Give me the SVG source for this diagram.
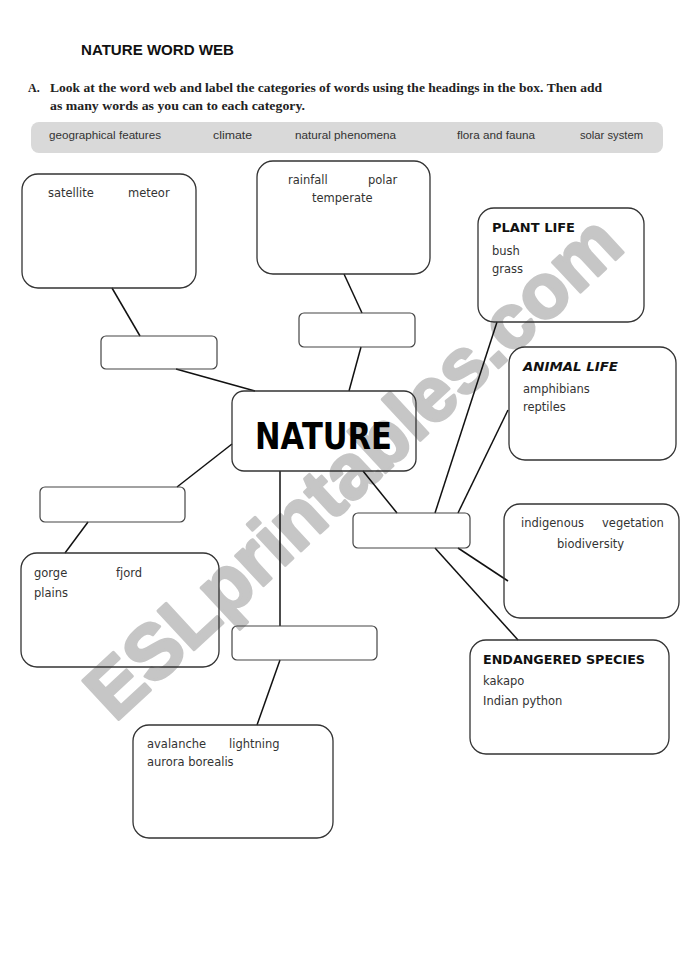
<svg xmlns="http://www.w3.org/2000/svg" width="685" height="970" viewBox="0 0 685 970">
<style>
.bg{fill:#fff}
.box{fill:none;stroke:#333;stroke-width:1.3}
.lbl{fill:none;stroke:#444;stroke-width:1.2}
.con line{stroke:#111;stroke-width:1.5}
.w{font-family:"DejaVu Sans",sans-serif;font-size:11.5px;fill:#333}
.h{font-family:"DejaVu Sans",sans-serif;font-size:12px;font-weight:bold;fill:#111}
.g{font-family:"Liberation Sans",Arial,sans-serif;font-size:11px;fill:#333}
.ins{font-family:"Liberation Serif","Times New Roman",serif;font-size:12px;font-weight:bold;fill:#222}
</style>
<rect class="bg" x="0" y="0" width="685" height="970"/>
<text x="115" y="723" transform="rotate(-42.8 115 723)" font-family="Liberation Sans,Arial,sans-serif" font-size="77" font-weight="bold" fill="#c6c6c6" stroke="#c6c6c6" stroke-width="3" stroke-linejoin="round">ESLprintables.com</text>
<g id="header">
<text x="81" y="55" font-family="Liberation Sans,Arial,sans-serif" font-size="14.5" font-weight="bold" fill="#111" textLength="153" lengthAdjust="spacingAndGlyphs">NATURE WORD WEB</text>
<text class="ins" x="28" y="92">A.</text>
<text class="ins" x="50" y="92" textLength="552" lengthAdjust="spacingAndGlyphs">Look at the word web and label the categories of words using the headings in the box. Then add</text>
<text class="ins" x="50" y="110" textLength="255" lengthAdjust="spacingAndGlyphs">as many words as you can to each category.</text>
</g>
<g id="wordbox">
<rect x="31" y="122" width="632" height="31" rx="8" fill="#d9d9d9"/>
<text class="g" x="49" y="139" textLength="112" lengthAdjust="spacingAndGlyphs">geographical features</text>
<text class="g" x="213" y="139" textLength="39" lengthAdjust="spacingAndGlyphs">climate</text>
<text class="g" x="295" y="139" textLength="101" lengthAdjust="spacingAndGlyphs">natural phenomena</text>
<text class="g" x="457" y="139" textLength="78" lengthAdjust="spacingAndGlyphs">flora and fauna</text>
<text class="g" x="580" y="139" textLength="63" lengthAdjust="spacingAndGlyphs">solar system</text>
</g>
<g class="con" id="connectors">
<line x1="112" y1="288" x2="140" y2="336"/>
<line x1="176" y1="369" x2="255" y2="391"/>
<line x1="344" y1="274" x2="362" y2="313"/>
<line x1="361" y1="347" x2="349" y2="391"/>
<line x1="232" y1="444" x2="177" y2="487"/>
<line x1="88" y1="522" x2="65" y2="553"/>
<line x1="280" y1="471" x2="280" y2="626"/>
<line x1="280" y1="660" x2="257" y2="725"/>
<line x1="363" y1="471" x2="397" y2="513"/>
<line x1="497" y1="322" x2="435" y2="513"/>
<line x1="508" y1="410" x2="458" y2="513"/>
<line x1="458" y1="548" x2="508" y2="581"/>
<line x1="435" y1="548" x2="518" y2="640"/>
</g>
<g id="solar">
<rect class="box" x="22" y="174" width="174" height="114" rx="16"/>
<text class="w" x="48" y="197">satellite</text>
<text class="w" x="128" y="197">meteor</text>
</g>
<g id="climate">
<rect class="box" x="257" y="161" width="173" height="113" rx="16"/>
<text class="w" x="288" y="184">rainfall</text>
<text class="w" x="368" y="184">polar</text>
<text class="w" x="312" y="202">temperate</text>
</g>
<g id="label1"><rect class="lbl" x="101" y="336" width="116" height="33" rx="5"/></g>
<g id="label2"><rect class="lbl" x="299" y="313" width="116" height="34" rx="5"/></g>
<g id="nature">
<rect class="box" x="232" y="391" width="184" height="80" rx="12"/>
<text x="255" y="449" font-family="DejaVu Sans,sans-serif" font-size="37" font-weight="bold" fill="#000" textLength="137" lengthAdjust="spacingAndGlyphs">NATURE</text>
</g>
<g id="plant">
<rect class="box" x="478" y="208" width="166" height="114" rx="16"/>
<text class="h" x="492" y="232" textLength="83" lengthAdjust="spacingAndGlyphs">PLANT LIFE</text>
<text class="w" x="492" y="255">bush</text>
<text class="w" x="492" y="273">grass</text>
</g>
<g id="animal">
<rect class="box" x="509" y="347" width="167" height="113" rx="16"/>
<text class="h" x="523" y="371" font-style="italic" textLength="95" lengthAdjust="spacingAndGlyphs">ANIMAL LIFE</text>
<text class="w" x="523" y="393">amphibians</text>
<text class="w" x="523" y="411">reptiles</text>
</g>
<g id="label4"><rect class="lbl" x="40" y="487" width="145" height="35" rx="5"/></g>
<g id="label3"><rect class="lbl" x="353" y="513" width="117" height="35" rx="5"/></g>
<g id="flora">
<rect class="box" x="504" y="504" width="175" height="114" rx="16"/>
<text class="w" x="521" y="527">indigenous</text>
<text class="w" x="602" y="527">vegetation</text>
<text class="w" x="557" y="548">biodiversity</text>
</g>
<g id="geo">
<rect class="box" x="21" y="553" width="198" height="114" rx="16"/>
<text class="w" x="34" y="577">gorge</text>
<text class="w" x="116" y="577">fjord</text>
<text class="w" x="34" y="597">plains</text>
</g>
<g id="label5"><rect class="lbl" x="232" y="626" width="145" height="34" rx="5"/></g>
<g id="endangered">
<rect class="box" x="470" y="640" width="199" height="114" rx="16"/>
<text class="h" x="483" y="664" textLength="162" lengthAdjust="spacingAndGlyphs">ENDANGERED SPECIES</text>
<text class="w" x="483" y="685">kakapo</text>
<text class="w" x="483" y="705">Indian python</text>
</g>
<g id="phenomena">
<rect class="box" x="133" y="725" width="200" height="113" rx="16"/>
<text class="w" x="147" y="748">avalanche</text>
<text class="w" x="229" y="748">lightning</text>
<text class="w" x="147" y="766">aurora borealis</text>
</g>
</svg>
